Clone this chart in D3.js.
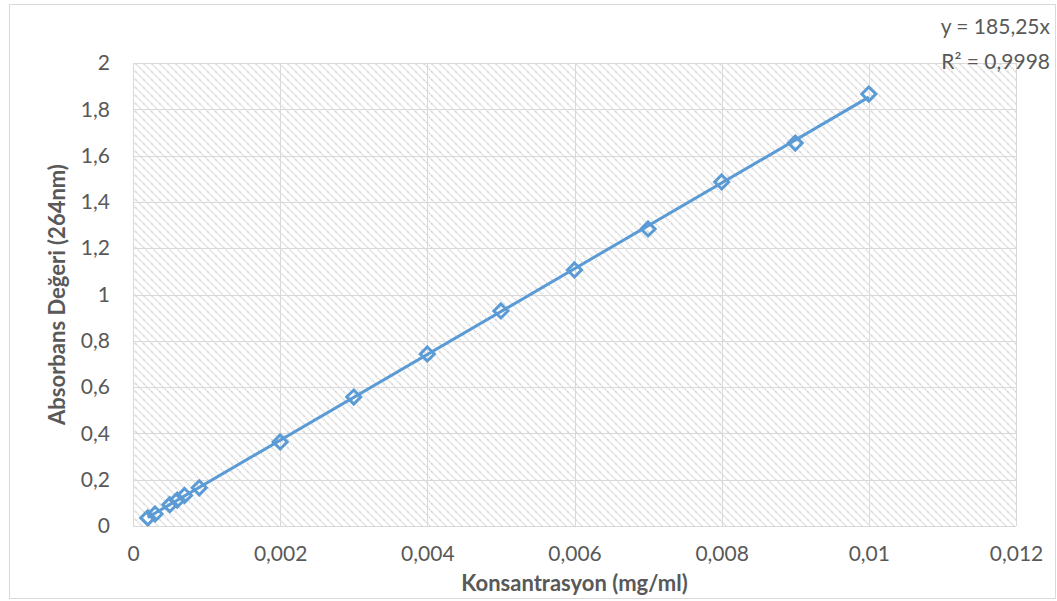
<!DOCTYPE html>
<html>
<head>
<meta charset="utf-8">
<script src="https://cdn.jsdelivr.net/npm/d3@7"></script>
<style>
  body { margin: 0; background: #fff; }
  text { font-family: Lato, "Open Sans", sans-serif; fill: #595959; }
</style>
</head>
<body>
<div id="chart"></div>
<script>
// concentration (mg/ml) and absorbance at 264nm
var konsantrasyon = [0.0002, 0.0003, 0.0005, 0.0006, 0.0007, 0.0009, 0.002, 0.003, 0.004, 0.005, 0.006, 0.007, 0.008, 0.009, 0.01];
var absorbans = [0.035, 0.052, 0.092, 0.112, 0.132, 0.165, 0.363, 0.557, 0.743, 0.929, 1.106, 1.283, 1.486, 1.654, 1.866];
var slope = 185.25;
var xTicks = [0, 0.002, 0.004, 0.006, 0.008, 0.01, 0.012];
var yTicks = [0, 0.2, 0.4, 0.6, 0.8, 1, 1.2, 1.4, 1.6, 1.8, 2];

var width = 1057,
    height = 601;

var svg = d3.select("#chart")
            .append("svg")
            .attr("width", width)
            .attr("height", height);

// hatch fill of the plot area
var pat = svg.append("defs").append("pattern")
     .attr("id", "hatch")
     .attr("patternUnits", "userSpaceOnUse")
     .attr("width", 8)
     .attr("height", 8);
pat.append("rect").attr("width", 8).attr("height", 8).attr("fill", "#fff");
pat.append("path")
     .attr("d", "M0,0 L8,8 M-4,4 L4,12 M4,-4 L12,4")
     .attr("stroke", "#d6d6d6")
     .attr("stroke-width", 1.6)
     .attr("stroke-dasharray", "1.4,1");

// outer chart border
svg.append("rect")
   .attr("x", 9.5).attr("y", 4.5)
   .attr("width", 1046).attr("height", 594)
   .attr("fill", "#fff")
   .attr("stroke", "#d9d9d9");

var x = d3.scaleLinear().domain([0, 0.012]).range([133, 1016]);
var y = d3.scaleLinear().domain([0, 2]).range([526, 63]);

var fmt = function(d) { return String(+d.toFixed(3)).replace(".", ","); };

svg.append("rect")
   .attr("x", x(0)).attr("y", y(2))
   .attr("width", x(0.012) - x(0)).attr("height", y(0) - y(2))
   .attr("fill", "url(#hatch)");

// gridlines
svg.append("g").selectAll("line.h")
   .data(yTicks)
   .enter()
   .append("line")
   .attr("x1", x(0)).attr("x2", x(0.012))
   .attr("y1", function(d) { return Math.round(y(d)) + 0.5; })
   .attr("y2", function(d) { return Math.round(y(d)) + 0.5; })
   .attr("stroke", "#d9d9d9")
   .attr("stroke-width", 1);

svg.append("g").selectAll("line.v")
   .data(xTicks)
   .enter()
   .append("line")
   .attr("y1", y(0)).attr("y2", y(2))
   .attr("x1", function(d) { return Math.round(x(d)) + 0.5; })
   .attr("x2", function(d) { return Math.round(x(d)) + 0.5; })
   .attr("stroke", "#d9d9d9")
   .attr("stroke-width", 1);

// axes
var xAxis = svg.append("g")
   .attr("transform", "translate(0," + y(0) + ")")
   .call(d3.axisBottom(x).tickValues(xTicks).tickFormat(fmt).tickSize(0).tickPadding(20));
xAxis.select(".domain").remove();
xAxis.selectAll("text").style("font-size", "21px").attr("fill", "#595959");

var yAxis = svg.append("g")
   .attr("transform", "translate(" + x(0) + ",0)")
   .call(d3.axisLeft(y).tickValues(yTicks).tickFormat(fmt).tickSize(0).tickPadding(23));
yAxis.select(".domain").remove();
yAxis.selectAll("text").style("font-size", "21px").attr("fill", "#595959");

// axis titles
svg.append("text")
   .attr("x", (x(0) + x(0.012)) / 2)
   .attr("y", 591)
   .attr("text-anchor", "middle")
   .style("font-size", "22px")
   .style("font-weight", "bold")
   .text("Konsantrasyon (mg/ml)");

svg.append("text")
   .attr("transform", "translate(65," + (y(0) + y(2)) / 2 + ") rotate(-90)")
   .attr("text-anchor", "middle")
   .style("font-size", "22px")
   .style("font-weight", "bold")
   .text("Absorbans Değeri (264nm)");

// linear trendline through origin
var xMin = d3.min(konsantrasyon), xMax = d3.max(konsantrasyon);
svg.append("line")
   .attr("x1", x(xMin)).attr("y1", y(slope * xMin))
   .attr("x2", x(xMax)).attr("y2", y(slope * xMax))
   .attr("stroke", "#5b9bd5")
   .attr("stroke-width", 3);

// diamond markers
svg.append("g").selectAll("path.pt")
   .data(konsantrasyon)
   .enter()
   .append("path")
   .attr("transform", function(d, i) { return "translate(" + x(d) + "," + y(absorbans[i]) + ")"; })
   .attr("d", "M0,-7 L7,0 L0,7 L-7,0 Z")
   .attr("fill", "none")
   .attr("stroke", "#5b9bd5")
   .attr("stroke-width", 3);

// equation label
svg.append("text")
   .attr("x", 1050).attr("y", 34)
   .attr("text-anchor", "end")
   .style("font-size", "21px")
   .text("y = " + String(slope).replace(".", ",") + "x");

svg.append("text")
   .attr("x", 1050).attr("y", 69)
   .attr("text-anchor", "end")
   .style("font-size", "21px")
   .text("R² = 0,9998");
</script>
</body>
</html>
